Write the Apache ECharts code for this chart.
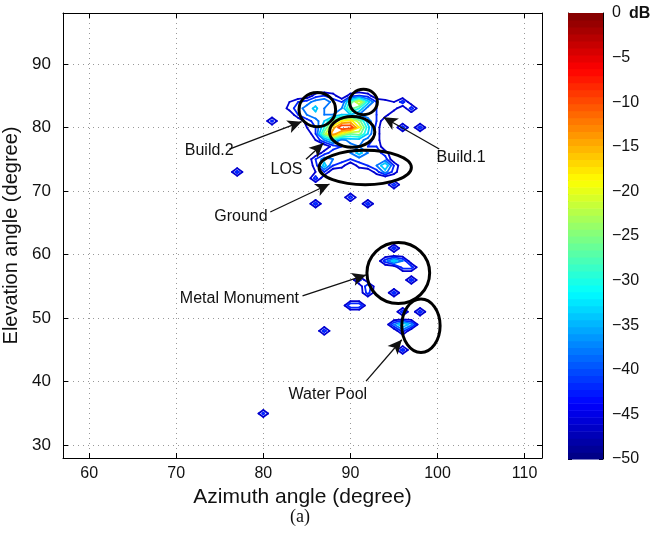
<!DOCTYPE html>
<html>
<head>
<meta charset="utf-8">
<script src="https://cdn.jsdelivr.net/npm/echarts@6/dist/echarts.min.js"></script>
<style>
  html, body { margin: 0; padding: 0; background: #fff; }
  #chart { width: 655px; height: 536px; }
</style>
</head>
<body>
<div id="chart"></div>
<script>
// power samples: [azimuth deg, elevation deg, power dB]
const mainCluster = [
  [86,85,-44],[87,85,-42],[88,85,-44],[90,85,-44],[91,85,-42],[92,85,-44],
  [83,84,-46],[84,84,-42],[85,84,-40],[86,84,-36],[87,84,-34],[88,84,-40],[89,84,-42],[90,84,-28],[91,84,-18],[92,84,-32],[93,84,-42],[94,84,-44],[95,84,-46],
  [83,83,-44],[84,83,-40],[85,83,-36],[86,83,-33],[87,83,-38],[88,83,-40],[89,83,-38],[90,83,-24],[91,83,-30],[92,83,-40],[93,83,-42],[94,83,-42],[95,83,-44],
  [84,82,-42],[85,82,-38],[86,82,-35],[87,82,-38],[88,82,-38],[89,82,-34],[90,82,-34],[91,82,-38],[92,82,-40],[93,82,-42],[94,82,-44],
  [85,81,-44],[86,81,-40],[87,81,-34],[88,81,-24],[89,81,-18],[90,81,-16],[91,81,-24],[92,81,-36],[93,81,-42],
  [85,80,-46],[86,80,-42],[87,80,-30],[88,80,-16],[89,80,-6],[90,80,-7],[91,80,-18],[92,80,-32],[93,80,-44],
  [86,79,-42],[87,79,-24],[88,79,-11],[89,79,-20],[90,79,-26],[91,79,-24],[92,79,-34],[93,79,-44],
  [86,78,-46],[87,78,-38],[88,78,-32],[89,78,-40],[90,78,-36],[91,78,-36],[92,78,-40],[93,78,-44],
  [88,77,-44],[89,77,-42],[90,77,-40],[91,77,-38],[92,77,-42],[93,77,-42],
  [87,76,-44],[88,76,-40],[89,76,-38],[90,76,-38],[91,76,-32],[92,76,-38],[93,76,-40],[94,76,-44],
  [86,75,-42],[87,75,-36],[88,75,-38],[89,75,-40],[90,75,-42],[91,75,-40],[92,75,-38],[93,75,-40],[94,75,-40],
  [86,74,-44],[87,74,-32],[88,74,-42],[89,74,-44],[91,74,-44],[92,74,-42],[93,74,-38],[94,74,-30],[95,74,-42],
  [86,73,-46],[87,73,-42],[93,73,-44],[94,73,-36],[95,73,-44]
]
const monumentPoints = [
  [95,61,-40],[94,59,-40],[95,59,-32],[96,59,-38],[96,58,-40],[97,58,-40],[97,56,-40],[95,54,-40],
  [91,56,-40],[92,55,-38],[92,54,-40],[90,52,-38],[91,52,-38]
]
const poolPoints = [
  [96,51,-40],[98,51,-40],[95,49,-38],[96,49,-30],[97,49,-36],[96,48,-40],[96,45,-40]
]
const scatterPoints = [
  [80,35,-41],[77,73,-40],[81,81,-41],[86,68,-40],[90,69,-40],[92,68,-40],[95,71,-40],
  [86,72,-40],[96,84,-40],[97,83,-40],[96,80,-40],[98,80,-40],[87,48,-40]
]

const contourLevels = [-46,-42,-38,-34,-30,-26,-22,-18,-14,-10,-6,-2]
const floorDb = -50
const colorbarTicks = [-50,-45,-40,-35,-30,-25,-20,-15,-10,-5,0]

// annotations in data coordinates
const annotEllipses = [ // [az, el, half az, half el]
  [86.2,82.8,2.1,2.7],[91.5,84.0,1.6,2.0],[90.2,79.3,2.6,2.4],
  [91.7,73.7,5.3,2.7],[95.5,57.1,3.6,4.8],[98.1,48.8,2.2,4.2]
]
const annotArrows = [ // [from, to]
  [[76.1,76.6],[84.4,80.9]],
  [[84.9,75.0],[86.9,77.5]],
  [[80.8,66.7],[87.6,71.1]],
  [[100.2,76.6],[93.8,81.6]],
  [[84.5,53.5],[91.8,56.8]],
  [[91.8,40.1],[95.9,46.6]]
]
const annotLabels = [ // [text, az, el, align]
  ['Build.2',76.6,76.4,'right'],
  ['LOS',84.5,73.4,'right'],
  ['Ground',80.5,65.9,'right'],
  ['Build.1',99.9,75.3,'left'],
  ['Metal Monument',84.1,53.0,'right'],
  ['Water Pool',82.9,37.9,'left']
]

const FONT = 'Liberation Sans, Arial, Helvetica, sans-serif'

function jet(v) {
  const t = Math.min(1, Math.max(0, (v + 50) / 50))
  const c = x => Math.round(255 * Math.min(1, Math.max(0, x)))
  return 'rgb(' + c(1.5 - Math.abs(4 * t - 3)) + ',' + c(1.5 - Math.abs(4 * t - 2)) + ',' + c(1.5 - Math.abs(4 * t - 1)) + ')'
}

// marching squares on a 1 degree grid
const AZ0 = 56, AZ1 = 113, EL0 = 27, EL1 = 99
function buildSegments() {
  const nx = AZ1 - AZ0 + 1, ny = EL1 - EL0 + 1
  const grid = []
  for (let j = 0; j < ny; j++) grid.push(new Array(nx).fill(floorDb))
  mainCluster.concat(monumentPoints, poolPoints, scatterPoints).forEach(([a, e, v]) => {
    grid[e - EL0][a - AZ0] = v
  })
  const table = {
    1: [[3, 0]], 2: [[0, 1]], 3: [[3, 1]], 4: [[1, 2]], 6: [[0, 2]], 7: [[2, 3]],
    8: [[2, 3]], 9: [[0, 2]], 11: [[1, 2]], 12: [[1, 3]], 13: [[0, 1]], 14: [[0, 3]]
  }
  const segs = []
  contourLevels.forEach(L => {
    for (let j = 0; j < ny - 1; j++) {
      for (let i = 0; i < nx - 1; i++) {
        const a = grid[j][i], b = grid[j][i + 1], c = grid[j + 1][i + 1], d = grid[j + 1][i]
        const idx = (a > L ? 1 : 0) | (b > L ? 2 : 0) | (c > L ? 4 : 0) | (d > L ? 8 : 0)
        if (idx === 0 || idx === 15) continue
        const x0 = AZ0 + i, y0 = EL0 + j
        const f = (p, q) => (L - p) / (q - p)
        const e = [
          [x0 + f(a, b), y0],
          [x0 + 1, y0 + f(b, c)],
          [x0 + f(d, c), y0 + 1],
          [x0, y0 + f(a, d)]
        ]
        let pairs = table[idx]
        const mid = (a + b + c + d) / 4
        if (idx === 5) pairs = mid > L ? [[3, 2], [0, 1]] : [[3, 0], [1, 2]]
        if (idx === 10) pairs = mid > L ? [[0, 3], [1, 2]] : [[0, 1], [2, 3]]
        pairs.forEach(([p, q]) => segs.push([e[p][0], e[p][1], e[q][0], e[q][1], L]))
      }
    }
  })
  return segs
}

const strips = []
for (let k = 0; k < 64; k++) strips.push([-50 + k * 50 / 64, -50 + (k + 1) * 50 / 64])

const minus = v => String(v).replace('-', '\u2212')

const chart = echarts.init(document.getElementById('chart'))
chart.setOption({
  animation: false,
  grid: [
    { left: 63, top: 13, width: 479, height: 445, show: false, outerBoundsMode: 'none', containLabel: false },
    { left: 568, top: 13, width: 35, height: 446, show: false, outerBoundsMode: 'none', containLabel: false }
  ],
  xAxis: [
    {
      type: 'value', gridIndex: 0, min: 57, max: 112, splitNumber: 5,
      name: 'Azimuth angle (degree)', nameLocation: 'middle', nameGap: 29,
      nameTextStyle: { fontFamily: FONT, fontSize: 21, color: '#111' },
      axisLine: { lineStyle: { color: '#000', width: 1 } },
      axisTick: { inside: true, length: 5, lineStyle: { color: '#000' } },
      axisLabel: { fontFamily: FONT, fontSize: 16, color: '#111', margin: 8, showMinLabel: false, showMaxLabel: false },
      splitLine: { show: true, lineStyle: { color: '#999', type: [1, 4] } }
    },
    {
      type: 'value', gridIndex: 0, min: 57, max: 112, splitNumber: 5, position: 'top',
      axisLine: { lineStyle: { color: '#000', width: 1 } },
      axisTick: { inside: true, length: 5, lineStyle: { color: '#000' } },
      axisLabel: { show: false }, splitLine: { show: false }
    },
    { type: 'value', gridIndex: 1, min: 0, max: 1, show: false }
  ],
  yAxis: [
    {
      type: 'value', gridIndex: 0, min: 28, max: 98, splitNumber: 7,
      name: 'Elevation angle (degree)', nameLocation: 'middle', nameGap: 34,
      nameTextStyle: { fontFamily: FONT, fontSize: 20, color: '#111' },
      axisLine: { lineStyle: { color: '#000', width: 1 } },
      axisTick: { inside: true, length: 5, lineStyle: { color: '#000' } },
      axisLabel: { fontFamily: FONT, fontSize: 17, color: '#111', margin: 12, showMinLabel: false, showMaxLabel: false },
      splitLine: { show: true, lineStyle: { color: '#999', type: [1, 4] } }
    },
    {
      type: 'value', gridIndex: 0, min: 28, max: 98, splitNumber: 7, position: 'right',
      axisLine: { lineStyle: { color: '#000', width: 1 } },
      axisTick: { inside: true, length: 5, lineStyle: { color: '#000' } },
      axisLabel: { show: false }, splitLine: { show: false }
    },
    {
      type: 'value', gridIndex: 1, min: -50, max: 0, interval: 5, position: 'left',
      axisLine: { show: true, lineStyle: { color: '#000' } },
      axisTick: { inside: true, length: 4, lineStyle: { color: '#000' } },
      axisLabel: { show: false }, splitLine: { show: false }
    },
    {
      type: 'value', gridIndex: 1, min: -50, max: 0, interval: 5, position: 'right',
      axisLine: { show: true, lineStyle: { color: '#000' } },
      axisTick: { inside: true, length: 4, lineStyle: { color: '#000' } },
      axisLabel: { fontFamily: FONT, fontSize: 16, color: '#111', margin: 9, formatter: minus },
      splitLine: { show: false }
    }
  ],
  graphic: [
    { type: 'text', left: 629, top: 6, style: { text: 'dB', font: 'bold 16px ' + FONT, fill: '#111' } },
    { type: 'text', left: 290, top: 508, style: { text: '(a)', font: '18px Liberation Serif, Times New Roman, serif', fill: '#111' } }
  ],
  series: [
    {
      type: 'custom', xAxisIndex: 0, yAxisIndex: 0, clip: true, silent: true,
      data: buildSegments(),
      encode: { x: [0, 2], y: [1, 3] },
      renderItem(params, api) {
        const p1 = api.coord([api.value(0), api.value(1)])
        const p2 = api.coord([api.value(2), api.value(3)])
        return {
          type: 'line',
          shape: { x1: p1[0], y1: p1[1], x2: p2[0], y2: p2[1] },
          style: { stroke: jet(api.value(4)), lineWidth: 1.8, lineCap: 'round' }
        }
      }
    },
    {
      type: 'custom', xAxisIndex: 0, yAxisIndex: 0, silent: true,
      data: annotEllipses,
      encode: { x: 0, y: 1 },
      renderItem(params, api) {
        const c = api.coord([api.value(0), api.value(1)])
        const s = api.size([api.value(2), api.value(3)])
        return {
          type: 'ellipse',
          shape: { cx: c[0], cy: c[1], rx: s[0], ry: s[1] },
          style: { fill: 'none', stroke: '#000', lineWidth: 3 }
        }
      }
    },
    {
      type: 'custom', xAxisIndex: 0, yAxisIndex: 0, silent: true,
      data: annotLabels.map(l => [l[1], l[2]]),
      encode: { x: 0, y: 1 },
      renderItem(params, api) {
        const c = api.coord([api.value(0), api.value(1)])
        const l = annotLabels[params.dataIndex]
        return {
          type: 'text', x: c[0], y: c[1],
          style: { text: l[0], font: '16px ' + FONT, fill: '#111', align: l[3], verticalAlign: 'middle' }
        }
      }
    },
    {
      type: 'line', xAxisIndex: 0, yAxisIndex: 0, data: [], silent: true,
      markLine: {
        silent: true, animation: false,
        symbol: ['none', 'arrow'], symbolSize: [10, 14],
        label: { show: false },
        lineStyle: { color: '#111', width: 1.3, type: 'solid' },
        data: annotArrows.map(a => [{ coord: a[0] }, { coord: a[1] }])
      }
    },
    {
      type: 'custom', xAxisIndex: 2, yAxisIndex: 2, silent: true,
      data: strips,
      encode: { y: [0, 1] },
      renderItem(params, api) {
        const lo = api.value(0), hi = api.value(1)
        const p1 = api.coord([0, hi])
        const p2 = api.coord([1, lo])
        return {
          type: 'rect',
          shape: { x: p1[0], y: p1[1], width: p2[0] - p1[0], height: p2[1] - p1[1] + 0.6 },
          style: { fill: jet((lo + hi) / 2) }
        }
      }
    }
  ]
})
</script>
</body>
</html>
